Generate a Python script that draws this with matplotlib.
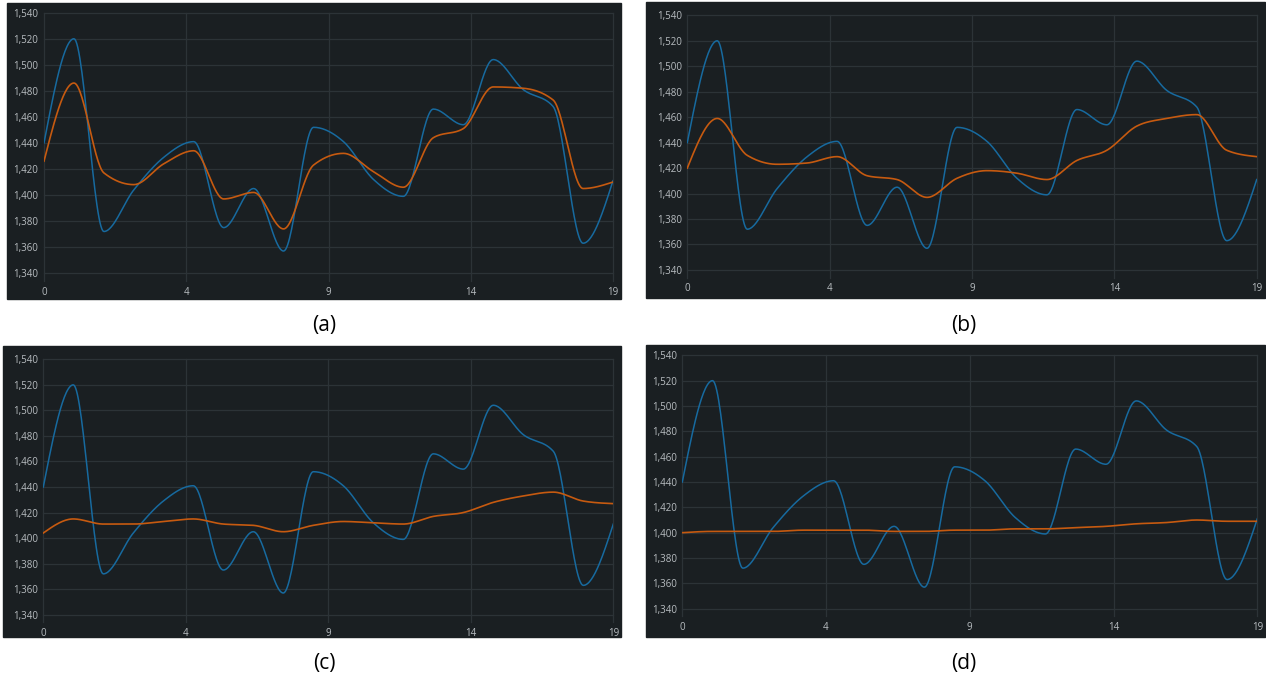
import numpy as np
import matplotlib.pyplot as plt
from matplotlib.patches import Rectangle
from matplotlib.ticker import FuncFormatter

plt.rcParams['font.family'] = ['Open Sans', 'DejaVu Sans']

# data (index 0..19)
idx = np.arange(20)
raw = [1440, 1520, 1372, 1404, 1429, 1441, 1375, 1405, 1357, 1452,
       1441, 1412, 1399, 1466, 1454, 1504, 1481, 1468, 1363, 1411]
smooth_a = [1426, 1486, 1417, 1408, 1424, 1434, 1397, 1402, 1374, 1423,
            1432, 1418, 1406, 1444, 1451, 1483, 1482, 1473, 1405, 1410]
smooth_b = [1420, 1459, 1430, 1423, 1424, 1429, 1414, 1411, 1397, 1412,
            1418, 1416, 1411, 1426, 1434, 1453, 1459, 1462, 1434, 1429]
smooth_c = [1404, 1415, 1411, 1411, 1413, 1415, 1411, 1410, 1405, 1410,
            1413, 1412, 1411, 1417, 1420, 1428, 1433, 1436, 1429, 1427]
smooth_d = [1400, 1401, 1401, 1401, 1402, 1402, 1402, 1401, 1401, 1402,
            1402, 1403, 1403, 1404, 1405, 1407, 1408, 1410, 1409, 1409]
captions = ['(a)', '(b)', '(c)', '(d)']
xtick_labels = ['0', '4', '9', '14', '19']
yticks = [1340, 1360, 1380, 1400, 1420, 1440, 1460, 1480, 1500, 1520, 1540]

W, H = 1266, 683
BG = '#1a1f22'
GRID = '#2c3337'
BLUE = '#176a9f'
ORANGE = '#c65a10'
TXT = '#b8bdc1'


def monotone(xs, ys, n=30):
    # monotone cubic drawing between the points (like d3 curveMonotoneX)
    xs = np.asarray(xs, float)
    ys = np.asarray(ys, float)
    h = np.diff(xs)
    s = np.diff(ys) / h
    m = np.zeros_like(ys)
    for i in range(1, len(ys) - 1):
        p = (s[i - 1] * h[i] + s[i] * h[i - 1]) / (h[i - 1] + h[i])
        m[i] = (np.sign(s[i - 1]) + np.sign(s[i])) * min(abs(s[i - 1]), abs(s[i]), 0.5 * abs(p))
    m[0] = (3 * s[0] - m[1]) / 2
    m[-1] = (3 * s[-1] - m[-2]) / 2
    out_x, out_y = [], []
    t = np.linspace(0, 1, n, endpoint=False)
    for i in range(len(xs) - 1):
        h00 = 2 * t**3 - 3 * t**2 + 1
        h10 = t**3 - 2 * t**2 + t
        h01 = -2 * t**3 + 3 * t**2
        h11 = t**3 - t**2
        out_x.append(xs[i] + t * h[i])
        out_y.append(h00 * ys[i] + h10 * h[i] * m[i] + h01 * ys[i + 1] + h11 * h[i] * m[i + 1])
    out_x.append([xs[-1]])
    out_y.append([ys[-1]])
    return np.concatenate(out_x), np.concatenate(out_y)


fig = plt.figure(figsize=(W / 100, H / 100), dpi=100)
fig.patch.set_facecolor('white')

# (panel rect, plot area) in pixels: (l, t, r, b), (x0, y1540, x19, ybottom)
panels = [
    ((7, 3, 621, 299), (44, 12.7, 613, 281)),
    ((646, 2, 1265, 298), (687.3, 15.3, 1256.7, 277.6)),
    ((3, 346, 621, 637), (43.3, 359.3, 613.3, 622.4)),
    ((646, 345, 1265, 637), (682.3, 355.3, 1257.3, 616.3)),
]
series = [smooth_a, smooth_b, smooth_c, smooth_d]
cap_pos = [(324, 326), (964, 326), (324, 663), (964, 663)]

for k, ((pl, pt, pr, pb), (x0, yt, x1, yb)) in enumerate(panels):
    fig.patches.append(Rectangle((pl / W, 1 - pb / H), (pr - pl) / W, (pb - pt) / H,
                                 transform=fig.transFigure, color=BG, zorder=-10))
    ax = fig.add_axes([x0 / W, 1 - yb / H, (x1 - x0) / W, (yb - yt) / H])
    ax.set_facecolor('none')
    bx, by = monotone(idx, raw)
    ax.plot(bx, by, color=BLUE, lw=1.1, zorder=3)
    ox, oy = monotone(idx, series[k])
    ax.plot(ox, oy, color=ORANGE, lw=1.2, zorder=4)
    ax.set_xlim(0, 19)
    ax.set_ylim(1334, 1540)
    ax.set_xticks(np.linspace(0, 19, 5))
    ax.set_xticklabels(xtick_labels)
    ax.set_yticks(yticks)
    ax.yaxis.set_major_formatter(FuncFormatter(lambda v, p: f'{int(v):,}'))
    ax.grid(True, color=GRID, lw=0.9)
    for gl in ax.get_xgridlines() + ax.get_ygridlines():
        gl.set_clip_on(False)
    ax.set_axisbelow(True)
    for s in ax.spines.values():
        s.set_visible(False)
    ax.tick_params(length=0, colors=TXT, labelsize=7, pad=4)
    fig.text(cap_pos[k][0] / W, 1 - cap_pos[k][1] / H, captions[k],
             ha='center', va='center', fontsize=15, color='black')

fig.savefig('out.png', dpi=100, facecolor='white')
